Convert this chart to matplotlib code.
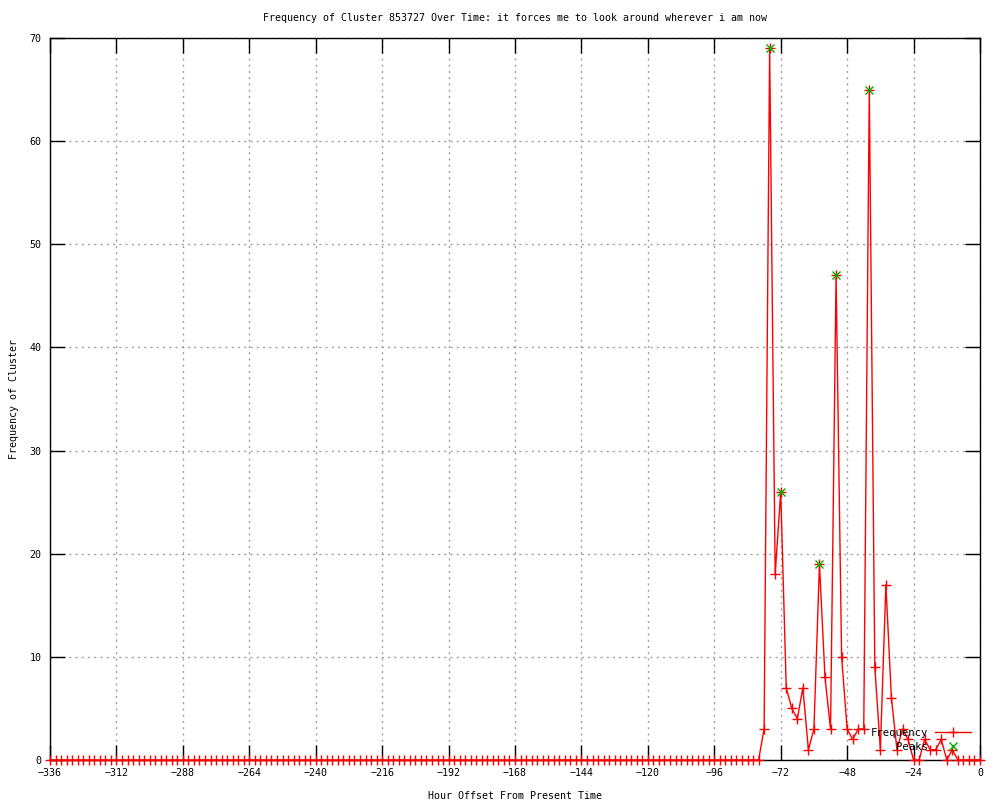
import matplotlib
matplotlib.use('Agg')
import matplotlib.pyplot as plt
from matplotlib.lines import Line2D

# hourly buckets, every 2 hours over the last two weeks
hours = list(range(-336, 1, 2))
counts = [
    0, 0, 0, 0, 0, 0, 0, 0, 0, 0, 0, 0, 0, 0, 0, 0, 0, 0, 0, 0,
    0, 0, 0, 0, 0, 0, 0, 0, 0, 0, 0, 0, 0, 0, 0, 0, 0, 0, 0, 0,
    0, 0, 0, 0, 0, 0, 0, 0, 0, 0, 0, 0, 0, 0, 0, 0, 0, 0, 0, 0,
    0, 0, 0, 0, 0, 0, 0, 0, 0, 0, 0, 0, 0, 0, 0, 0, 0, 0, 0, 0,
    0, 0, 0, 0, 0, 0, 0, 0, 0, 0, 0, 0, 0, 0, 0, 0, 0, 0, 0, 0,
    0, 0, 0, 0, 0, 0, 0, 0, 0, 0, 0, 0, 0, 0, 0, 0, 0, 0, 0, 0,
    0, 0, 0, 0, 0, 0, 0, 0, 0,
    # -78 .. 0
    3, 69, 18, 26, 7, 5, 4, 7, 1, 3,
    19, 8, 3, 47, 10, 3, 2, 3, 3, 65,
    9, 1, 17, 6, 1, 3, 2, 0, 0, 2,
    1, 1, 2, 0, 1, 0, 0, 0, 0, 0,
]
peak_hours = [-76, -72, -58, -52, -40]
peak_counts = [69, 26, 19, 47, 65]

title = 'Frequency of Cluster 853727 Over Time: it forces me to look around wherever i am now'
font = 'DejaVu Sans Mono'
fs = 7.2

fig = plt.figure(figsize=(10, 8), dpi=100)
ax = fig.add_axes([0.05, 0.05, 0.93, 0.9025])

ax.plot(hours, counts, color='red', linewidth=1, marker='+', markersize=7,
        markeredgewidth=1, clip_on=False, zorder=3)
ax.plot(peak_hours, peak_counts, linestyle='', marker='x', color='#00b000',
        markersize=6, markeredgewidth=1, zorder=4)

ax.set_xlim(-336, 0)
ax.set_ylim(0, 70)
ax.set_xticks(range(-336, 1, 24))
ax.set_yticks(range(0, 71, 10))
ax.grid(True, color='#a0a0a0', linestyle=(0, (1.5, 3)), linewidth=1)
ax.set_axisbelow(True)
ax.tick_params(direction='in', length=11, width=1, top=True, right=True,
               labelsize=fs, pad=6)
for lab in ax.get_xticklabels() + ax.get_yticklabels():
    lab.set_family(font)
for s in ax.spines.values():
    s.set_linewidth(1)

ax.set_title(title, fontsize=fs, family=font, pad=12)
ax.set_xlabel('Hour Offset From Present Time', fontsize=fs, family=font, labelpad=9)
ax.set_ylabel('Frequency of Cluster', fontsize=fs, family=font, labelpad=8)

handles = [
    Line2D([], [], color='red', linewidth=1, marker='+', markersize=7),
    Line2D([], [], color='#00b000', linestyle='', marker='x', markersize=6),
]
ax.legend(handles, ['Frequency', 'Peaks'], loc='lower right',
          bbox_to_anchor=(0.996, 0.004), frameon=False, markerfirst=False,
          handlelength=3.4, handletextpad=0.6, labelspacing=0.35,
          borderpad=0, prop={'family': font, 'size': fs + 0.5})

fig.savefig('out.png', dpi=100)
